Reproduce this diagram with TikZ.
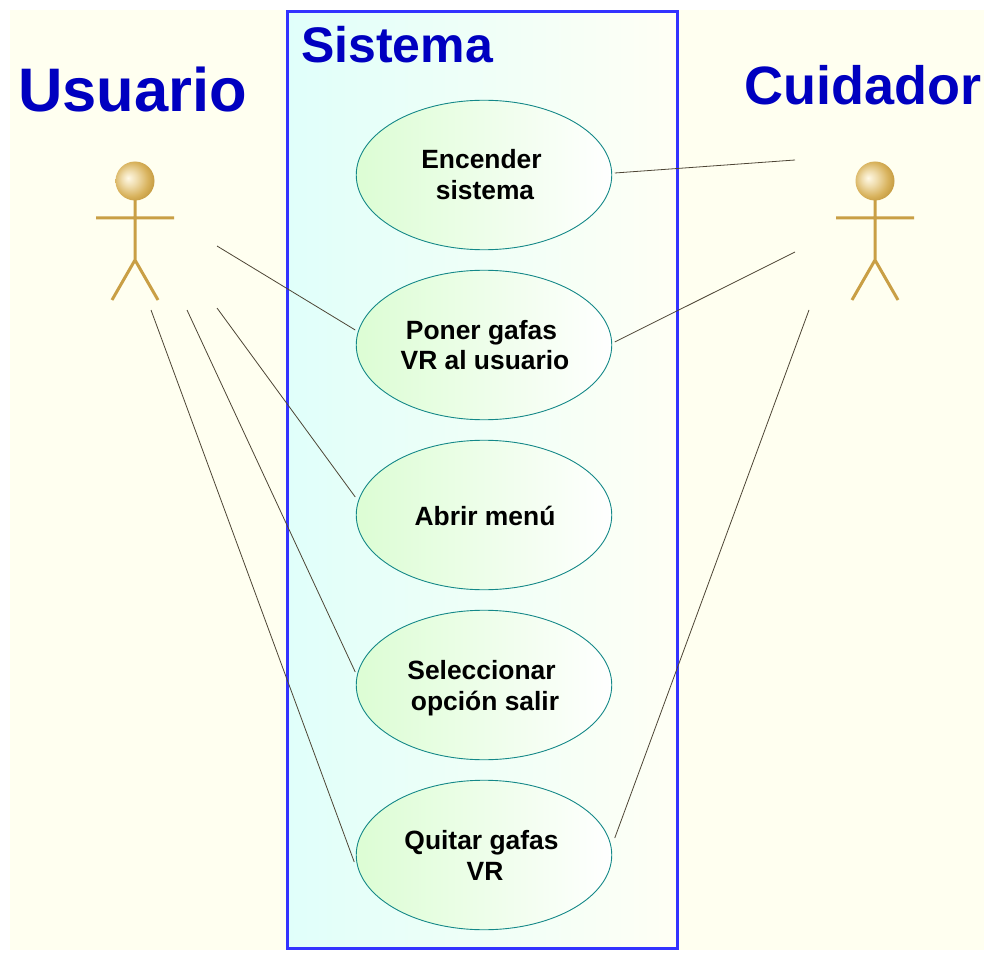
\documentclass[tikz,border=0pt]{standalone}
\usepackage{fontspec}
\setmainfont{Liberation Sans}
\usetikzlibrary{positioning, shapes.geometric}
\definecolor{paperbg}{HTML}{FFFFF0}
\definecolor{sysblue}{HTML}{3333FF}
\definecolor{titleblue}{HTML}{0000C0}
\definecolor{sysleft}{HTML}{E0FFFA}
\definecolor{sysright}{HTML}{FFFFF5}
\definecolor{caseleft}{HTML}{DCFDD4}
\definecolor{caseline}{HTML}{148888}
\definecolor{actorgold}{HTML}{C99F45}
\definecolor{headlight}{HTML}{FFF9E6}
\definecolor{headmid}{HTML}{EFDCAC}
\definecolor{headrim}{HTML}{D8B25C}
\definecolor{headdark}{HTML}{B88C30}
\definecolor{assocline}{HTML}{4D4535}
\pgfdeclareradialshading{actorhead}{\pgfpoint{-9bp}{4bp}}{%
  color(0bp)=(headlight); color(10bp)=(headmid);
  color(22bp)=(headrim); color(34bp)=(headdark); color(50bp)=(headdark)}
\newcommand{\casestrut}{\rule[-6pt]{0pt}{31pt}}
\newcommand{\casefirst}[1]{\casestrut#1\kern5pt}
\newcommand{\casesecond}[1]{\kern2pt#1\casestrut}

\begin{document}
\begin{tikzpicture}[
  x=1pt, y=-1pt,
  font=\bfseries,
  usecase/.style={ellipse, draw=caseline, line width=0.9pt, left color=caseleft, right color=white, minimum width=255.5pt, minimum height=149.5pt, inner sep=0pt, outer sep=0pt, align=center, text=black, font=\bfseries\fontsize{26.4}{31}\selectfont},
  titletext/.style={anchor=base west, inner sep=0pt, text=titleblue},
  assoc/.style={-, line width=0.8pt, draw=assocline},
  actorfig/.pic={
    \draw[line width=3pt, draw=actorgold] (0,19) -- (0,79) (-39,37) -- (39,37) (-23,119) -- (0,79) -- (23,119);
    \shade[shading=actorhead] (0,0) circle (19.5);
  }
]

% Backgrounds
\useasboundingbox (0,0) rectangle (994,960);
\fill[paperbg] (10,10) rectangle (984,950);
\node[rectangle, draw=sysblue, line width=3pt, left color=sysleft, right color=sysright, minimum width=390pt, minimum height=937pt, inner sep=0pt, outer sep=0pt, anchor=north west] (Sistema) at (287.5,11.5) {};

% Titles
\node[titletext, font=\bfseries\fontsize{50}{50}\selectfont] (SistemaTitle) at (301,63) {Sistema};
\node[titletext, font=\bfseries\fontsize{61.5}{62}\selectfont] (UsuarioTitle) at (18,112) {Usuario};
\node[titletext, font=\bfseries\fontsize{54}{54}\selectfont] (CuidadorTitle) at (744,105) {Cuidador};

% Actors
\pic at (135,181) {actorfig};
\pic at (875,181) {actorfig};

% Use cases
\node[usecase] (Encender) at (484,175) {\casefirst{Encender}\\\casesecond{sistema}};
\node[usecase, below=20.5pt of Encender] (Poner) {\casefirst{Poner gafas}\\\casesecond{VR al usuario}};
\node[usecase, below=20.5pt of Poner] (Abrir) {\rule[-6pt]{0pt}{32pt}\kern2pt Abrir menú};
\node[usecase, below=20.5pt of Abrir] (Seleccionar) {\casefirst{Seleccionar}\\\casesecond{opción salir}};
\node[usecase, below=20.5pt of Seleccionar] (Quitar) {\casefirst{Quitar gafas}\\\casesecond{VR}};

% Free ends near the actors
\coordinate (UsuarioA) at (217,246);
\coordinate (UsuarioB) at (217,308);
\coordinate (UsuarioC) at (187,310);
\coordinate (UsuarioD) at (151,310);
\coordinate (CuidadorA) at (795,160);
\coordinate (CuidadorB) at (795,252);
\coordinate (CuidadorC) at (809,310);

% Routing
\draw[assoc] (UsuarioA) -- ([xshift=-1pt,yshift=15pt]Poner.west);
\draw[assoc] (UsuarioB) -- ([xshift=-1pt,yshift=18pt]Abrir.west);
\draw[assoc] (UsuarioC) -- ([xshift=-1pt,yshift=13pt]Seleccionar.west);
\draw[assoc] (UsuarioD) -- ([xshift=-2pt,yshift=-7pt]Quitar.west);
\draw[assoc] (CuidadorA) -- ([xshift=3pt,yshift=2pt]Encender.east);
\draw[assoc] (CuidadorB) -- ([xshift=3pt,yshift=3pt]Poner.east);
\draw[assoc] (CuidadorC) -- ([xshift=3pt,yshift=17pt]Quitar.east);

\end{tikzpicture}
\end{document}
